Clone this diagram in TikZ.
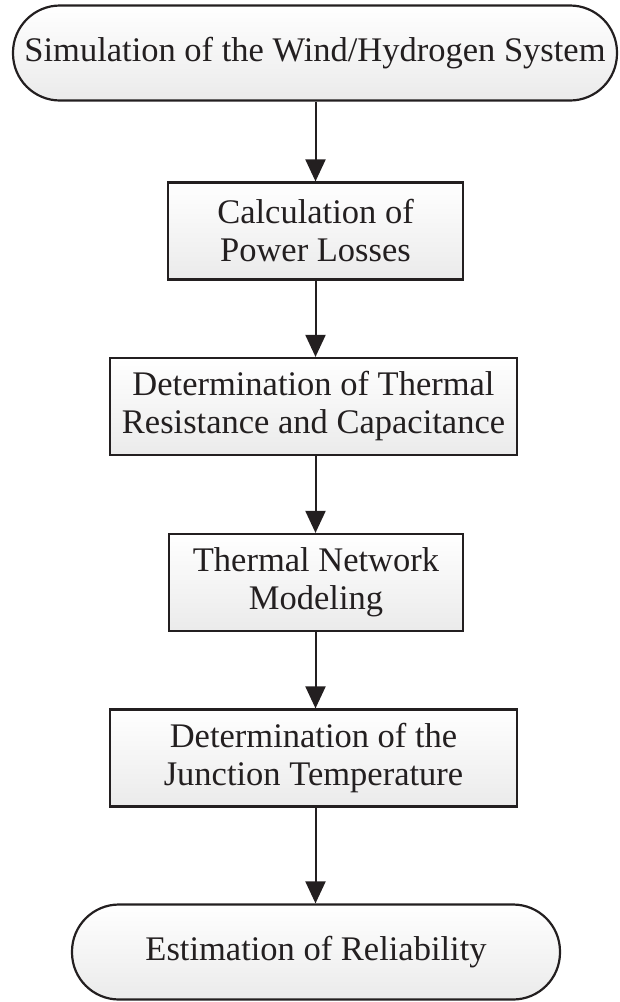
\documentclass[tikz,border=0pt]{standalone}
\usepackage{fontspec}
\setmainfont{Liberation Serif}
\usetikzlibrary{arrows.meta}
\definecolor{ink}{HTML}{231F20}
\tikzset{
  base/.style={draw=ink, line width=2.2pt, top color=white, bottom color=gray!16,
    inner sep=0pt, align=center, text=ink,
    font=\fontsize{34.5pt}{38pt}\selectfont},
  procbox/.style={base, rectangle, minimum width=#1, minimum height=97pt},
  termbox/.style={base, rectangle, rounded corners=47pt, minimum width=#1, minimum height=95pt},
  flow/.style={draw=ink, line width=2pt, -{Triangle[width=20pt,length=22pt]}}
}
\begin{document}
\begin{tikzpicture}[x=1pt,y=1pt]
\useasboundingbox (0,0) rectangle (619,-1002);
\node[termbox=604pt] (t1) at (315,-53) {Simulation of the Wind/Hydrogen System};
\node[procbox=295pt] (b1) at (315.5,-231) {Calculation of\\Power Losses};
\node[procbox=407pt] (b2) at (313.5,-406.5) {Determination of Thermal\\Resistance and Capacitance};
\node[procbox=294pt] (b3) at (316,-582.5) {Thermal Network\\Modeling};
\node[procbox=407pt] (b4) at (313.5,-758) {Determination of the\\Junction Temperature};
\node[termbox=488pt] (t2) at (316,-952) {Estimation of Reliability};
\draw[flow] (t1.south -| 315.5,0) -- (b1.north -| 315.5,0);
\draw[flow] (b1.south -| 315.5,0) -- (b2.north -| 315.5,0);
\draw[flow] (b2.south -| 315.5,0) -- (b3.north -| 315.5,0);
\draw[flow] (b3.south -| 315.5,0) -- (b4.north -| 315.5,0);
\draw[flow] (b4.south -| 315.5,0) -- (t2.north -| 315.5,0);
\end{tikzpicture}
\end{document}
